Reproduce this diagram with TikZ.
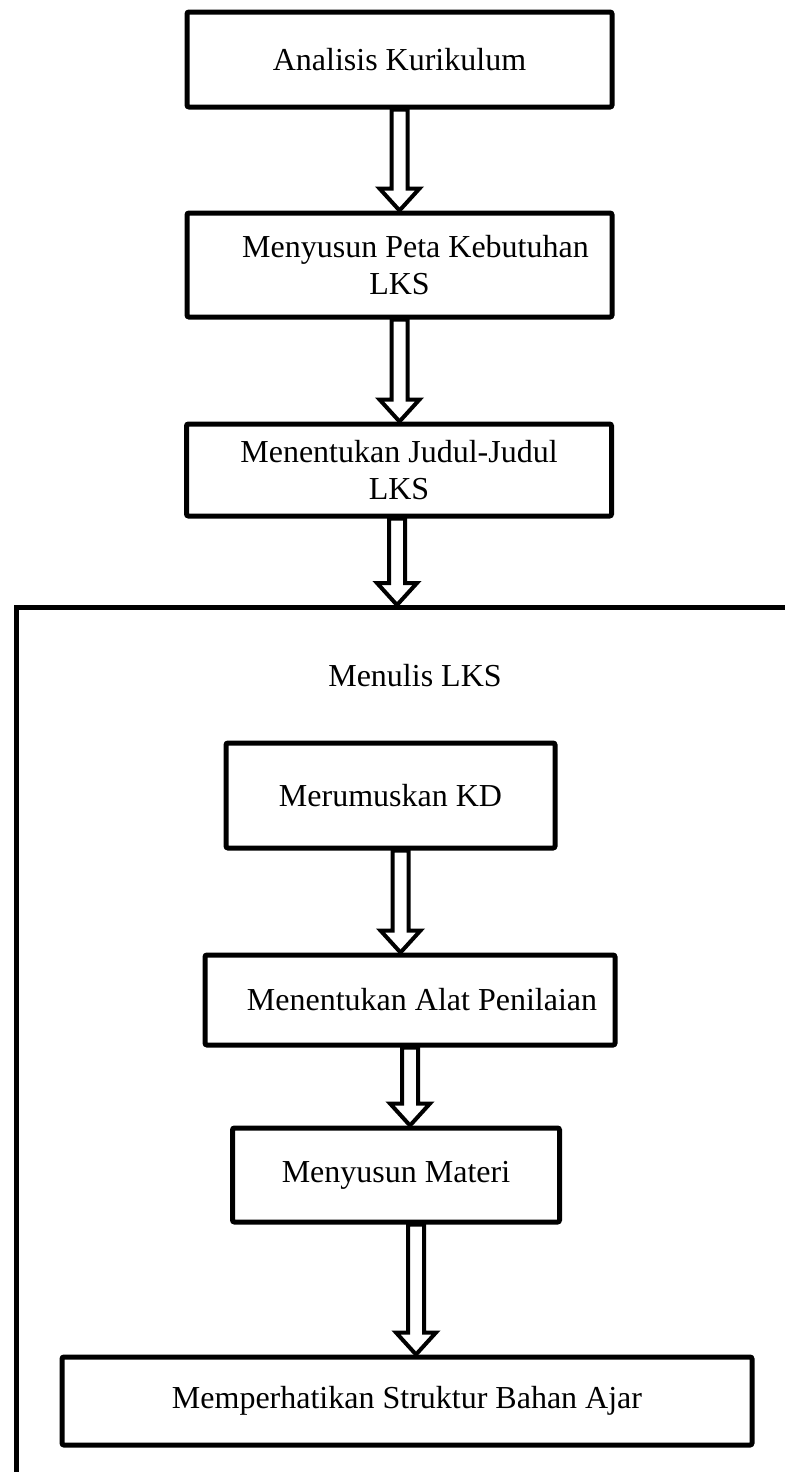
\documentclass[tikz,border=0pt]{standalone}
\usepackage{fontspec}
\setmainfont{Liberation Serif}
\usetikzlibrary{calc}

\tikzset{
  box/.style={draw, line width=2.5pt, rounded corners=1pt, fill=white,
    align=center, font=\fontsize{16}{18.5}\selectfont},
  % panah putih berongga
  hollow/.style={draw, line width=2pt, fill=white,
    to path={($(\tikztostart)+(-8,0)$) -- ($(\tikztostart|-\tikztotarget)+(-8,-22)$)
      -- ($(\tikztostart|-\tikztotarget)+(-20,-22)$) -- (\tikztostart|-\tikztotarget)
      -- ($(\tikztostart|-\tikztotarget)+(20,-22)$) -- ($(\tikztostart|-\tikztotarget)+(8,-22)$)
      -- ($(\tikztostart)+(8,0)$) -- cycle}}
}

\begin{document}
\begin{tikzpicture}[x=0.5pt,y=-0.5pt]
  \clip (0,0) rectangle (785,1472);
  \fill[white] (0,0) rectangle (785,1472);

  \node[box, minimum width=212.5pt, minimum height=47.5pt] (kur) at (399.5,59.5) {Analisis Kurikulum};
  \node[box, minimum width=212.5pt, minimum height=52pt] (peta) at (399.5,265) {\hspace*{16pt}Menyusun Peta Kebutuhan\\LKS};
  \node[box, minimum width=212.5pt, minimum height=46pt] (judul) at (399,470) {Menentukan Judul-Judul\\LKS};

  % kotak besar
  \node[draw, line width=2.5pt, anchor=north west, minimum width=450pt, minimum height=500pt] (tulis) at (14,605) {};
  \node[font=\fontsize{16}{18.5}\selectfont] (tulislbl) at (415,676) {Menulis LKS};

  \node[box, minimum width=164.5pt, minimum height=52.5pt] (kd) at (390.5,795.5) {Merumuskan KD};
  \node[box, minimum width=205pt, minimum height=45pt] (alat) at (410,1000) {\hspace*{12pt}Menentukan Alat Penilaian};
  \node[box, minimum width=163.5pt, minimum height=47pt] (materi) at (396,1175) {Menyusun Materi};
  \node[box, minimum width=345pt, minimum height=44pt] (struktur) at (407,1401) {Memperhatikan Struktur Bahan Ajar};

  \draw[hollow] (kur.south) to (peta.north);
  \draw[hollow] (peta.south) to (judul.north);
  \draw[hollow] ([xshift=-1]judul.south) to (judul.south|-tulis.north);
  \draw[hollow] ([xshift=5]kd.south) to (alat.north);
  \draw[hollow] (alat.south) to (materi.north);
  \draw[hollow] ([xshift=10]materi.south) to (struktur.north);
\end{tikzpicture}
\end{document}
